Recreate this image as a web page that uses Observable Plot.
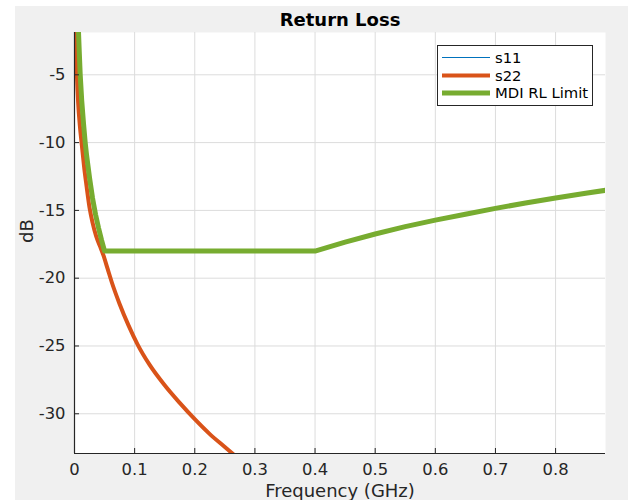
<!DOCTYPE html>
<html>
<head>
<meta charset="utf-8">
<script src="https://cdn.jsdelivr.net/npm/d3@7"></script>
<script src="https://cdn.jsdelivr.net/npm/@observablehq/plot@0.6"></script>
<style>
  body { margin: 0; background: #ffffff; }
  #wrap { position: relative; width: 628px; height: 500px; overflow: hidden; font-family: "DejaVu Sans", sans-serif; }
  #bg { position: absolute; left: 15px; top: 6px; right: 0; bottom: 0; background: #f0f0f0; }
  #chart { position: absolute; left: 0; top: 0; }
  #legend { position: absolute; left: 437px; top: 45px; }
</style>
</head>
<body>
<div id="wrap">
  <div id="bg"></div>
  <div id="chart"></div>
  <div id="legend"></div>
</div>
<script>
// ---- data ----
const titleText = "Return Loss";
const xLabel = "Frequency (GHz)";
const yLabel = "dB";
const xTicks = [0, 0.1, 0.2, 0.3, 0.4, 0.5, 0.6, 0.7, 0.8];
const yTicks = [-30, -25, -20, -15, -10, -5];
const xDomain = [0, 0.883];
const yDomain = [-32.93, -1.88];

const seriesNames = ["s11", "s22", "MDI RL Limit"];
const seriesColors = ["#0072BD", "#D95319", "#77AC30"];
const seriesWidths = [1, 4, 5];

// s22 (s11 lies underneath it, identical trace)
const sFreq = [0.0012, 0.002, 0.003, 0.004, 0.006, 0.009, 0.012, 0.016, 0.02, 0.025, 0.03, 0.036, 0.042, 0.048, 0.055, 0.062, 0.075, 0.09, 0.105, 0.125, 0.15, 0.175, 0.2, 0.225, 0.25, 0.275];
const s22dB = [0.5, -2.0, -3.6, -5.0, -7.0, -8.8, -10.1, -11.8, -13.2, -14.8, -15.9, -16.9, -17.6, -18.3, -19.3, -20.3, -21.9, -23.5, -24.9, -26.4, -27.9, -29.2, -30.4, -31.5, -32.45, -33.4];
const s11dB = [0.5, -2.0, -3.6, -5.0, -7.0, -8.8, -10.1, -11.8, -13.2, -14.8, -15.9, -16.9, -17.6, -18.3, -19.3, -20.3, -21.9, -23.5, -24.9, -26.4, -27.9, -29.2, -30.4, -31.5, -32.45, -33.4];

// MDI return-loss limit
const limFreq = [0.005, 0.0067, 0.008, 0.0095, 0.012, 0.015, 0.0178, 0.02, 0.025, 0.03, 0.035, 0.04, 0.045, 0.05, 0.4, 0.45, 0.5, 0.55, 0.6, 0.65, 0.7, 0.75, 0.8, 0.85, 0.883];
const limDB = [-0.2, -1.9, -3.4, -5.0, -6.9, -8.6, -10.0, -10.9, -12.6, -14.1, -15.3, -16.3, -17.2, -18.0, -18.0, -17.34, -16.74, -16.2, -15.72, -15.28, -14.85, -14.46, -14.09, -13.74, -13.52];

// ---- build tables ----
const s11 = sFreq.map((f, i) => ({f, v: s11dB[i]}));
const s22 = sFreq.map((f, i) => ({f, v: s22dB[i]}));
const lim = limFreq.map((f, i) => ({f, v: limDB[i]}));

const W = 628, H = 500;
const mL = 74, mR = 23, mT = 32, mB = 47;
const frameW = W - mL - mR, frameH = H - mT - mB;
const ink = "#262626";

const plot = Plot.plot({
  width: W, height: H,
  marginLeft: mL, marginRight: mR, marginTop: mT, marginBottom: mB,
  style: {background: "transparent", fontFamily: "DejaVu Sans", fontSize: "16.4px", color: ink, overflow: "visible"},
  x: {domain: xDomain},
  y: {domain: yDomain},
  marks: [
    Plot.frame({fill: "white", stroke: null}),
    Plot.ruleX(xTicks, {x: d => d, stroke: "#dcdcdc", strokeWidth: 1}),
    Plot.ruleY(yTicks, {y: d => d, stroke: "#dcdcdc", strokeWidth: 1}),
    Plot.line(s11, {x: "f", y: "v", stroke: seriesColors[0], strokeWidth: seriesWidths[0], curve: "monotone-x", clip: true}),
    Plot.line(s22, {x: "f", y: "v", stroke: seriesColors[1], strokeWidth: seriesWidths[1], curve: "monotone-x", clip: true}),
    Plot.line(lim, {x: "f", y: "v", stroke: seriesColors[2], strokeWidth: seriesWidths[2], clip: true}),
    Plot.tickX(xTicks, {x: d => d, insetTop: frameH - 5, stroke: ink}),
    Plot.tickY(yTicks, {y: d => d, insetRight: frameW - 5, stroke: ink}),
    Plot.ruleX([xDomain[0]], {x: d => d, stroke: ink, strokeWidth: 1.2}),
    Plot.ruleY([yDomain[0]], {y: d => d, stroke: ink, strokeWidth: 1.2}),
    Plot.axisX(xTicks, {tickSize: 0, tickPadding: 10, label: null, fill: ink, fontSize: 16.4, tickFormat: d => String(d)}),
    Plot.axisY(yTicks, {tickSize: 0, tickPadding: 9, label: null, fill: ink, fontSize: 16.4, tickFormat: d => String(d)}),
    Plot.text([titleText], {frameAnchor: "top", dy: -7, lineAnchor: "bottom", fontWeight: "bold", fontSize: 18, fill: "#000"}),
    Plot.text([xLabel], {frameAnchor: "bottom", dy: 43, lineAnchor: "bottom", fontSize: 18, fill: ink}),
    Plot.text([yLabel], {frameAnchor: "left", dx: -42, rotate: -90, lineAnchor: "bottom", fontSize: 18, fill: ink})
  ]
});
document.getElementById("chart").appendChild(plot);

// ---- legend ----
const lg = d3.select("#legend").append("svg")
  .attr("width", 157).attr("height", 62)
  .style("font-family", "DejaVu Sans");
lg.append("rect").attr("x", 0.5).attr("y", 0.5).attr("width", 155).attr("height", 60)
  .attr("fill", "white").attr("stroke", ink).attr("stroke-width", 1);
const rows = [12.5, 30.5, 48];
seriesNames.forEach((name, i) => {
  lg.append("line").attr("x1", 5).attr("x2", 53).attr("y1", rows[i]).attr("y2", rows[i])
    .attr("stroke", seriesColors[i]).attr("stroke-width", seriesWidths[i]);
  lg.append("text").attr("x", 58).attr("y", rows[i]).attr("dy", "0.35em")
    .attr("font-size", 14.8).attr("fill", "#000").text(name);
});
</script>
</body>
</html>
